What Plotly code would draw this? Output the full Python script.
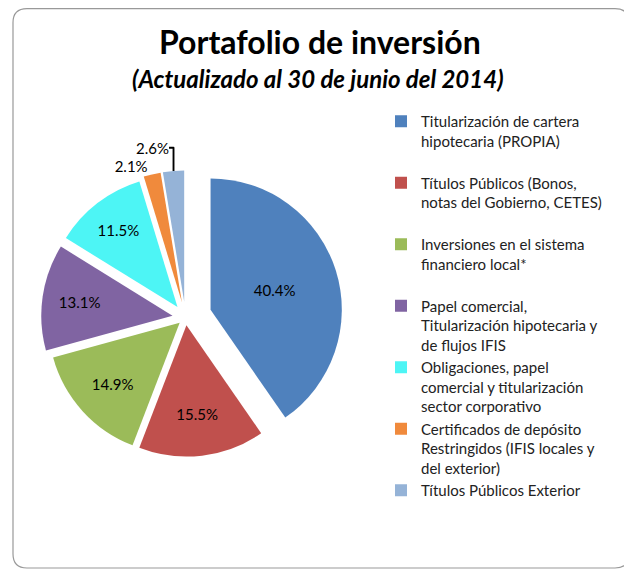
import plotly.graph_objects as go

labels = [
    "Titularización de cartera<br>hipotecaria (PROPIA)",
    "Títulos Públicos (Bonos,<br>notas del Gobierno, CETES)",
    "Inversiones en el sistema<br>financiero local*",
    "Papel comercial,<br>Titularización hipotecaria y<br>de flujos IFIS",
    "Obligaciones, papel<br>comercial y titularización<br>sector corporativo",
    "Certificados de depósito<br>Restringidos (IFIS locales y<br>del exterior)",
    "Títulos Públicos Exterior",
]
values = [40.4, 15.5, 14.9, 13.1, 11.5, 2.1, 2.6]
text_labels = ["40.4%", "15.5%", "14.9%", "13.1%", "11.5%", "2.1%", "2.6%"]
colors = ["#4F81BD", "#C0504D", "#9BBB59", "#8064A2", "#4DF5F5", "#F08A3C", "#95B3D7"]
pulls = [0.2, 0.06, 0.06, 0.1, 0.1, 0.12, 0.12]

# the page body adds an 8px margin, so the figure is sized to fit inside the window
OFF = 8
W, H = 632 - OFF, 574 - OFF


def px(x):  # screen x -> paper x
    return (x - OFF) / W


def py(y):  # screen y -> paper y
    return 1 - (y - OFF) / H


# legend labels with blank spacer lines for the first three items
legend_labels = [l + ("<br> " if i < 3 else "") for i, l in enumerate(labels)]

fig = go.Figure(
    go.Pie(
        labels=legend_labels,
        values=values,
        text=text_labels,
        textinfo="text",
        textposition=["inside"] * 5 + ["outside"] * 2,
        insidetextorientation="horizontal",
        sort=False,
        direction="clockwise",
        rotation=0,
        pull=pulls,
        marker=dict(colors=colors, line=dict(color="white", width=0)),
        textfont=dict(family="Lato, sans-serif", size=15, color="black"),
        domain=dict(x=[px(28), px(343)], y=[py(475), py(160)]),
        hoverinfo="label+percent",
    )
)

# rounded border
x0, x1, y0, y1, r = 13, 629, 8.6, 568, 14
path = (
    f"M {px(x0 + r)} {py(y0)} L {px(x1 - r)} {py(y0)} "
    f"Q {px(x1)} {py(y0)} {px(x1)} {py(y0 + r)} "
    f"L {px(x1)} {py(y1 - r)} Q {px(x1)} {py(y1)} {px(x1 - r)} {py(y1)} "
    f"L {px(x0 + r)} {py(y1)} Q {px(x0)} {py(y1)} {px(x0)} {py(y1 - r)} "
    f"L {px(x0)} {py(y0 + r)} Q {px(x0)} {py(y0)} {px(x0 + r)} {py(y0)} Z"
)

fig.update_layout(
    width=W,
    height=H,
    margin=dict(l=0, r=0, t=0, b=0, autoexpand=False),
    paper_bgcolor="white",
    font=dict(family="Lato, sans-serif", color="black"),
    shapes=[dict(type="path", xref="paper", yref="paper", path=path,
                 line=dict(color="#999999", width=1.2), layer="below")],
    annotations=[
        dict(text="<b>Portafolio de inversión</b>", x=px(320), y=py(41.5), xref="paper", yref="paper",
             showarrow=False, font=dict(size=32, family="Lato, sans-serif"), yanchor="middle"),
        dict(text="<b><i>(Actualizado al 30 de junio del 2014)</i></b>", x=px(318), y=py(78.5),
             xref="paper", yref="paper", showarrow=False,
             font=dict(size=24, family="Lato, sans-serif"), yanchor="middle"),
    ],
    legend=dict(
        x=px(381), y=py(105), xanchor="left", yanchor="top",
        font=dict(size=15, family="Lato, sans-serif", color="#222"),
        valign="top", itemwidth=30, tracegroupgap=0,
        bgcolor="rgba(0,0,0,0)",
    ),
    showlegend=True,
)

fig.write_html("out.html")
